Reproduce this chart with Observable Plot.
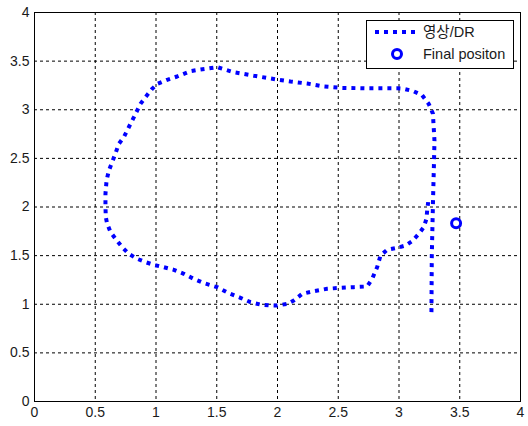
<!DOCTYPE html>
<html>
<head>
<meta charset="utf-8">
<script src="https://cdn.jsdelivr.net/npm/d3@7"></script>
<script src="https://cdn.jsdelivr.net/npm/@observablehq/plot@0.6"></script>
<style>
  html, body { margin: 0; padding: 0; background: #fff; }
  #chart { position: relative; width: 528px; height: 426px; }
  svg { font-family: "Liberation Sans", Arial, "Noto Sans CJK KR", sans-serif; }
</style>
</head>
<body>
<div id="chart"></div>
<script>
// Trajectory (영상/DR), in order along the path
const pathX = [3.267, 3.27, 3.28, 3.287, 3.292, 3.279, 3.245, 3.19, 3.12, 3.04, 2.985, 2.75, 2.52, 2.38, 2.244, 2.107, 1.997, 1.805, 1.64, 1.503, 1.366, 1.284, 1.174, 1.092, 1.01, 0.968, 0.914, 0.872, 0.818, 0.776, 0.735, 0.694, 0.667, 0.639, 0.612, 0.593, 0.584, 0.584, 0.587, 0.598, 0.626, 0.667, 0.722, 0.776, 0.845, 0.914, 0.982, 1.064, 1.147, 1.229, 1.311, 1.394, 1.503, 1.599, 1.695, 1.778, 1.86, 1.942, 1.997, 2.08, 2.134, 2.203, 2.299, 2.409, 2.519, 2.628, 2.738, 2.779, 2.82, 2.848, 2.903, 2.985, 3.053, 3.108, 3.163, 3.204, 3.226, 3.232, 3.24];
const pathY = [0.919, 1.5, 2.067, 2.41, 2.68, 2.96, 3.06, 3.15, 3.19, 3.215, 3.22, 3.22, 3.225, 3.24, 3.27, 3.29, 3.31, 3.35, 3.386, 3.438, 3.414, 3.397, 3.342, 3.308, 3.266, 3.215, 3.13, 3.06, 2.924, 2.82, 2.718, 2.65, 2.553, 2.461, 2.375, 2.272, 2.135, 1.998, 1.895, 1.827, 1.741, 1.673, 1.587, 1.518, 1.467, 1.433, 1.405, 1.381, 1.354, 1.313, 1.261, 1.217, 1.176, 1.114, 1.066, 1.021, 0.997, 0.987, 0.987, 1.004, 1.039, 1.107, 1.135, 1.159, 1.169, 1.176, 1.183, 1.261, 1.381, 1.501, 1.56, 1.58, 1.604, 1.649, 1.724, 1.793, 1.878, 1.964, 2.05];
// Final position
const finalX = [3.47];
const finalY = [1.834];
// Axis ticks
const ticks = [0, 0.5, 1, 1.5, 2, 2.5, 3, 3.5, 4];
const tickLabels = ["0", "0.5", "1", "1.5", "2", "2.5", "3", "3.5", "4"];
// Legend
const legendLabels = ["영상/DR", "Final positon"];

const path = pathX.map((x, i) => ({x, y: pathY[i]}));
const fin = finalX.map((x, i) => ({x, y: finalY[i]}));
const blue = "#0000ff";
const fontStack = "'Liberation Sans', Arial, 'Noto Sans CJK KR', sans-serif";

const plot = Plot.plot({
  width: 528,
  height: 426,
  marginLeft: 34,
  marginRight: 8,
  marginTop: 12,
  marginBottom: 25,
  style: {fontSize: "14px", fontFamily: fontStack, color: "#1a1a1a", background: "#fff"},
  x: {domain: [0, 4], ticks: ticks, label: null},
  y: {domain: [0, 4], ticks: ticks, label: null},
  marks: [
    Plot.gridX(ticks, {stroke: "#000", strokeOpacity: 1, strokeWidth: 1, strokeDasharray: "3,3"}),
    Plot.gridY(ticks, {stroke: "#000", strokeOpacity: 1, strokeWidth: 1, strokeDasharray: "3,3"}),
    Plot.axisX({ticks: ticks, tickFormat: (d) => tickLabels[ticks.indexOf(d)], tickSize: 0, tickPadding: 6, label: null}),
    Plot.axisY({ticks: ticks, tickFormat: (d) => tickLabels[ticks.indexOf(d)], tickSize: 0, tickPadding: 5, label: null}),
    Plot.line(path, {x: "x", y: "y", stroke: blue, strokeWidth: 4, strokeDasharray: "4,5", strokeLinecap: "butt", strokeLinejoin: "miter", curve: "linear"}),
    Plot.dot(fin, {x: "x", y: "y", r: 4.5, stroke: blue, strokeWidth: 3, fill: "#fff"}),
    Plot.frame({stroke: "#000", strokeWidth: 1})
  ]
});

document.getElementById("chart").appendChild(plot);

// Legend box drawn in the SVG
const svg = d3.select(plot);
const g = svg.append("g").attr("class", "legend")
  .attr("text-anchor", "start").attr("font-family", fontStack).attr("font-size", 14.5);
g.append("rect").attr("x", 366.5).attr("y", 20.5).attr("width", 147).attr("height", 48)
  .attr("fill", "#fff").attr("stroke", "#000").attr("stroke-width", 1);
g.append("line").attr("x1", 375).attr("x2", 415).attr("y1", 32).attr("y2", 32)
  .attr("stroke", blue).attr("stroke-width", 4).attr("stroke-dasharray", "4,5");
g.append("text").attr("x", 423).attr("y", 32).attr("dy", "0.35em")
  .attr("text-anchor", "start").attr("fill", "#1a1a1a").text(legendLabels[0]);
g.append("circle").attr("cx", 397).attr("cy", 54).attr("r", 4.5)
  .attr("fill", "#fff").attr("stroke", blue).attr("stroke-width", 3);
g.append("text").attr("x", 423).attr("y", 54).attr("dy", "0.35em")
  .attr("text-anchor", "start").attr("fill", "#1a1a1a").text(legendLabels[1]);
</script>
</body>
</html>
